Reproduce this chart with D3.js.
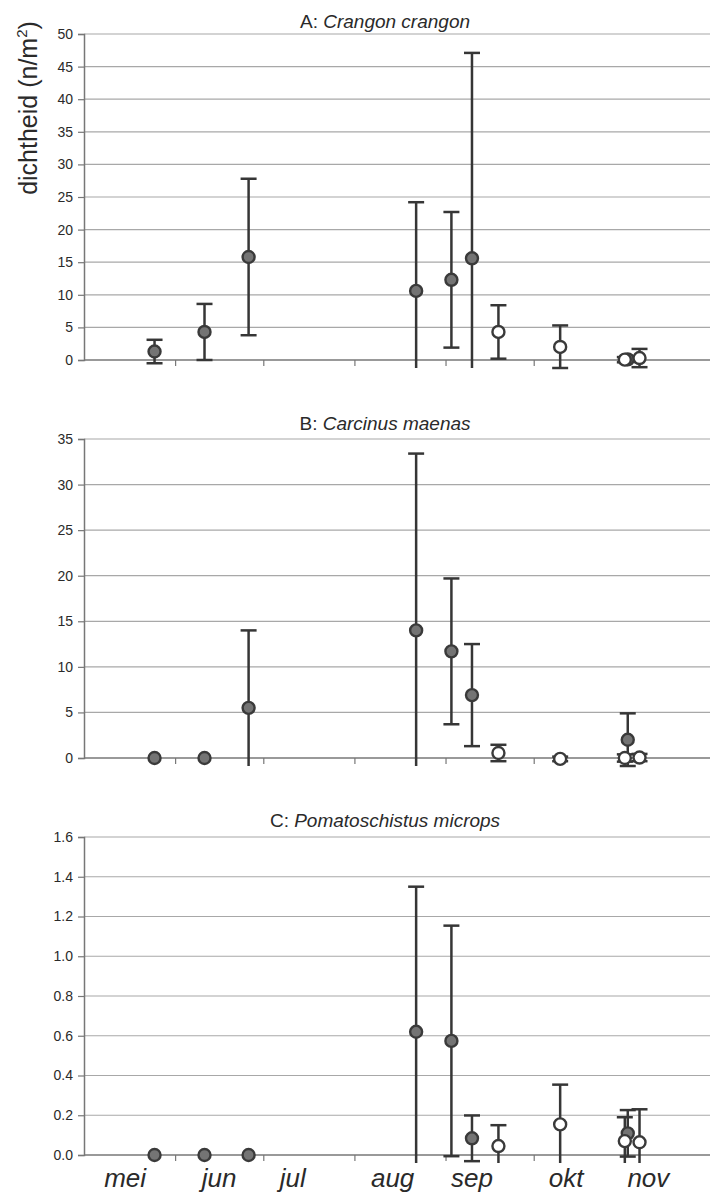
<!DOCTYPE html>
<html>
<head>
<meta charset="utf-8">
<script src="https://cdn.jsdelivr.net/npm/d3@7"></script>
<style>
  body { margin: 0; background: #fff; }
  svg { display: block; }
  text { font-family: "Liberation Sans", Arial, sans-serif; fill: #2a2a2a; }
</style>
</head>
<body>
<div id="chart"></div>
<script>
// sampling dates (2 series: filled and open markers)
const filledDates = ["2000-05-25", "2000-06-11", "2000-06-26", "2000-08-22", "2000-09-03", "2000-09-10", "2000-11-02"];
const openDates = ["2000-09-19", "2000-10-10", "2000-11-01", "2000-11-06"];

// A: Crangon crangon
const crangonFilled = [1.3, 4.3, 15.8, 10.6, 12.3, 15.6, 0.1];
const crangonFilledErr = [1.8, 4.3, 12.0, 13.6, 10.4, 31.5, 0.4];
const crangonOpen = [4.3, 2.0, 0.05, 0.3];
const crangonOpenErr = [4.1, 3.3, 0.4, 1.4];

// B: Carcinus maenas
const carcinusFilled = [0, 0, 5.5, 14.0, 11.7, 6.9, 2.0];
const carcinusFilledErr = [0, 0, 8.5, 19.4, 8.0, 5.6, 2.9];
const carcinusOpen = [0.55, -0.1, 0.0, 0.05];
const carcinusOpenErr = [0.9, 0.25, 0.4, 0.4];

// C: Pomatoschistus microps
const pomatoFilled = [0, 0, 0, 0.62, 0.574, 0.084, 0.109];
const pomatoFilledErr = [0, 0, 0, 0.73, 0.58, 0.115, 0.117];
const pomatoOpen = [0.045, 0.154, 0.07, 0.064];
const pomatoOpenErr = [0.105, 0.2, 0.12, 0.166];

// axis labels
const monthLabels = ["mei", "jun", "jul", "aug", "sep", "okt", "nov"];
const monthLabelDates = ["2000-05-15", "2000-06-16", "2000-07-11", "2000-08-14", "2000-09-10", "2000-10-12", "2000-11-09"];
const yTicksA = [0, 5, 10, 15, 20, 25, 30, 35, 40, 45, 50];
const yTicksB = [0, 5, 10, 15, 20, 25, 30, 35];
const yTicksC = [0, 0.2, 0.4, 0.6, 0.8, 1.0, 1.2, 1.4, 1.6];

const width = 710, height = 1195;
const parse = d3.timeParse("%Y-%m-%d");

const svg = d3.select("#chart").append("svg")
    .attr("width", width)
    .attr("height", height);

const x = d3.scaleTime()
    .domain([new Date(2000, 4, 1), new Date(2000, 11, 1)])
    .range([84, 713]);

const panels = [
    { letter: "A", name: "Crangon crangon", ticks: yTicksA, fmt: d3.format("d"),
      range: [360, 34], titleY: 28,
      filled: crangonFilled, filledErr: crangonFilledErr, open: crangonOpen, openErr: crangonOpenErr },
    { letter: "B", name: "Carcinus maenas", ticks: yTicksB, fmt: d3.format("d"),
      range: [758, 439], titleY: 430,
      filled: carcinusFilled, filledErr: carcinusFilledErr, open: carcinusOpen, openErr: carcinusOpenErr },
    { letter: "C", name: "Pomatoschistus microps", ticks: yTicksC, fmt: d3.format(".1f"),
      range: [1155, 837], titleY: 827,
      filled: pomatoFilled, filledErr: pomatoFilledErr, open: pomatoOpen, openErr: pomatoOpenErr }
];

panels.forEach(p => {
    const y = d3.scaleLinear()
        .domain([0, p.ticks[p.ticks.length - 1]])
        .range(p.range);
    const g = svg.append("g");
    const y0 = y(0);
    const clipPx = y0 + 8;

    // gridlines
    g.selectAll("line.grid")
        .data(p.ticks.slice(1))
        .join("line")
        .attr("x1", x.range()[0])
        .attr("x2", width)
        .attr("y1", d => y(d))
        .attr("y2", d => y(d))
        .attr("stroke", "#a8a8a8")
        .attr("stroke-width", 1.2);

    // y axis
    const yAxis = g.append("g")
        .attr("transform", `translate(${x.range()[0]},0)`)
        .call(d3.axisLeft(y).tickValues(p.ticks).tickFormat(p.fmt).tickSize(6).tickPadding(5));
    yAxis.select(".domain").attr("stroke", "#777").attr("stroke-width", 1.5);
    yAxis.selectAll(".tick line").attr("stroke", "#777").attr("stroke-width", 1.2);
    yAxis.selectAll(".tick text").attr("font-size", 14).attr("fill", "#333")
        .attr("font-family", "Liberation Sans, Arial, sans-serif");

    // x axis (month boundaries)
    const xAxis = g.append("g")
        .attr("transform", `translate(0,${y0})`)
        .call(d3.axisBottom(x)
            .tickValues(d3.timeMonth.range(new Date(2000, 5, 1), new Date(2000, 11, 1)))
            .tickFormat("")
            .tickSizeOuter(0)
            .tickSize(6));
    xAxis.select(".domain").attr("stroke", "#777").attr("stroke-width", 1.5)
        .attr("d", `M${x.range()[0]},0H${width}`);
    xAxis.selectAll(".tick line").attr("stroke", "#777").attr("stroke-width", 1.2);

    // title
    const title = g.append("text")
        .attr("x", 385)
        .attr("y", p.titleY)
        .attr("text-anchor", "middle")
        .attr("font-size", 19);
    title.append("tspan").text(p.letter + ": ");
    title.append("tspan").attr("font-style", "italic").text(p.name);

    const series = [
        { dates: filledDates, vals: p.filled, errs: p.filledErr, fill: "#747474" },
        { dates: openDates, vals: p.open, errs: p.openErr, fill: "#ffffff" }
    ];

    // error bars
    series.forEach(s => {
        const pts = s.vals.map((v, i) => ({ date: parse(s.dates[i]), v, e: s.errs[i] }))
            .filter(d => d.e > 0);
        const bars = g.append("g").attr("stroke", "#363636").attr("stroke-width", 2.5);
        pts.forEach(d => {
            const cx = x(d.date);
            const top = y(d.v + d.e);
            const lowRaw = y(d.v - d.e);
            const low = Math.min(lowRaw, clipPx);
            bars.append("line").attr("x1", cx).attr("x2", cx).attr("y1", top).attr("y2", low);
            bars.append("line").attr("x1", cx - 8).attr("x2", cx + 8).attr("y1", top).attr("y2", top);
            if (lowRaw <= clipPx + 1) {
                bars.append("line").attr("x1", cx - 8).attr("x2", cx + 8).attr("y1", low).attr("y2", low);
            }
        });
    });

    // markers
    series.forEach(s => {
        g.append("g").selectAll("circle")
            .data(s.vals.map((v, i) => ({ date: parse(s.dates[i]), v })))
            .join("circle")
            .attr("cx", d => x(d.date))
            .attr("cy", d => y(d.v))
            .attr("r", 6)
            .attr("fill", s.fill)
            .attr("stroke", "#3a3a3a")
            .attr("stroke-width", 2.4);
    });
});

// month labels under the last panel
svg.append("g").selectAll("text")
    .data(monthLabels)
    .join("text")
    .attr("x", (d, i) => x(parse(monthLabelDates[i])))
    .attr("y", 1187)
    .attr("text-anchor", "middle")
    .attr("font-size", 26)
    .attr("font-style", "italic")
    .text(d => d);

// y axis label
const ylab = svg.append("text")
    .attr("transform", "translate(37,108) rotate(-90)")
    .attr("text-anchor", "middle")
    .attr("font-size", 25);
ylab.append("tspan").text("dichtheid (n/m");
ylab.append("tspan").attr("font-size", 15).attr("dy", -10).text("2");
ylab.append("tspan").attr("dy", 10).text(")");
</script>
</body>
</html>
